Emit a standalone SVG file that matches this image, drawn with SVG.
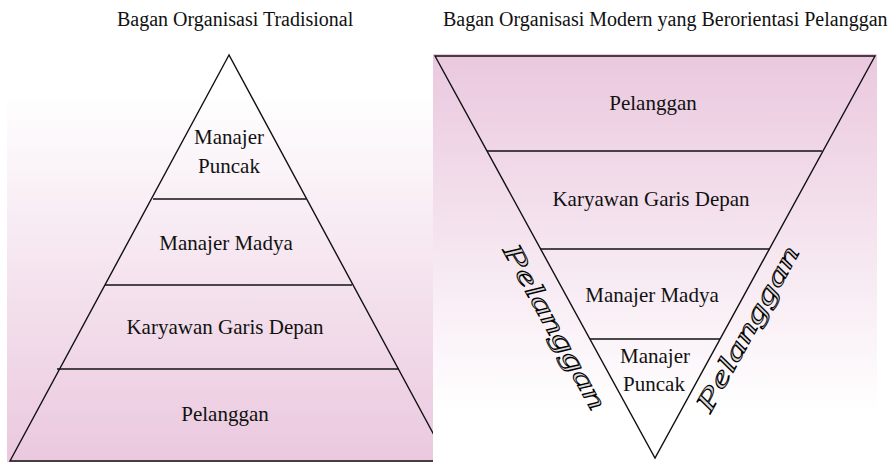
<svg xmlns="http://www.w3.org/2000/svg" width="893" height="462" viewBox="0 0 893 462">
  <defs>
    <linearGradient id="gLeft" x1="0" y1="0" x2="0" y2="1">
      <stop offset="0" stop-color="#ffffff"/>
      <stop offset="0.12" stop-color="#ffffff"/>
      <stop offset="1" stop-color="#eac8de"/>
    </linearGradient>
    <linearGradient id="gRight" x1="0" y1="0" x2="0" y2="1">
      <stop offset="0" stop-color="#eac8de"/>
      <stop offset="0.88" stop-color="#ffffff"/>
      <stop offset="1" stop-color="#ffffff"/>
    </linearGradient>
    <style>
      .title { font-family: "Liberation Serif", "Times New Roman", serif; font-size: 20px; fill: #111; }
      .lbl { font-family: "Liberation Serif", "Times New Roman", serif; font-size: 21px; fill: #111; text-anchor: middle; }
      .edge { fill: none; stroke: #111; stroke-width: 1.4; stroke-linejoin: miter; }
      .div { stroke: #111; stroke-width: 1.6; }
      .wa { font-family: "Liberation Serif", "Times New Roman", serif; font-style: italic; font-size: 27px; fill: #d8d8d8; stroke: #000; stroke-width: 0.9; text-anchor: middle; }
    </style>
  </defs>
  <rect width="893" height="462" fill="#ffffff"/>

  <text class="title" x="117" y="26">Bagan Organisasi Tradisional</text>
  <text class="title" x="443" y="26">Bagan Organisasi Modern yang Berorientasi Pelanggan</text>

  <g id="traditional">
    <rect x="7" y="40" width="426" height="422" fill="url(#gLeft)"/>
    <polygon class="edge" points="229,55 10,461 448,461"/>
    <g id="t-manajer-puncak">
      <line class="div" x1="153" y1="199" x2="306" y2="199"/>
      <text class="lbl" x="229" y="144">Manajer</text>
      <text class="lbl" x="229" y="173">Puncak</text>
    </g>
    <g id="t-manajer-madya">
      <line class="div" x1="105" y1="285" x2="352" y2="285"/>
      <text class="lbl" x="226" y="250">Manajer Madya</text>
    </g>
    <g id="t-karyawan">
      <line class="div" x1="57" y1="369" x2="399" y2="369"/>
      <text class="lbl" x="225" y="334">Karyawan Garis Depan</text>
    </g>
    <g id="t-pelanggan">
      <text class="lbl" x="225" y="421">Pelanggan</text>
    </g>
  </g>

  <g id="modern">
    <rect x="433" y="54" width="444" height="408" fill="url(#gRight)"/>
    <polygon class="edge" points="435,56 875,56 655,458"/>
    <g id="m-pelanggan">
      <text class="lbl" x="653" y="110">Pelanggan</text>
    </g>
    <g id="m-karyawan">
      <line class="div" x1="487" y1="151" x2="822" y2="151"/>
      <text class="lbl" x="651" y="206">Karyawan Garis Depan</text>
    </g>
    <g id="m-manajer-madya">
      <line class="div" x1="540" y1="249" x2="770" y2="249"/>
      <text class="lbl" x="652" y="302">Manajer Madya</text>
    </g>
    <g id="m-manajer-puncak">
      <line class="div" x1="590" y1="339" x2="720" y2="339"/>
      <text class="lbl" x="655" y="363">Manajer</text>
      <text class="lbl" x="654" y="391">Puncak</text>
    </g>
    <g id="side-labels">
      <text class="wa" transform="translate(547,331) rotate(61)" textLength="185" lengthAdjust="spacingAndGlyphs">Pelanggan</text>
      <text class="wa" transform="translate(755,333) rotate(-61)" textLength="185" lengthAdjust="spacingAndGlyphs">Pelanggan</text>
    </g>
  </g>
</svg>
